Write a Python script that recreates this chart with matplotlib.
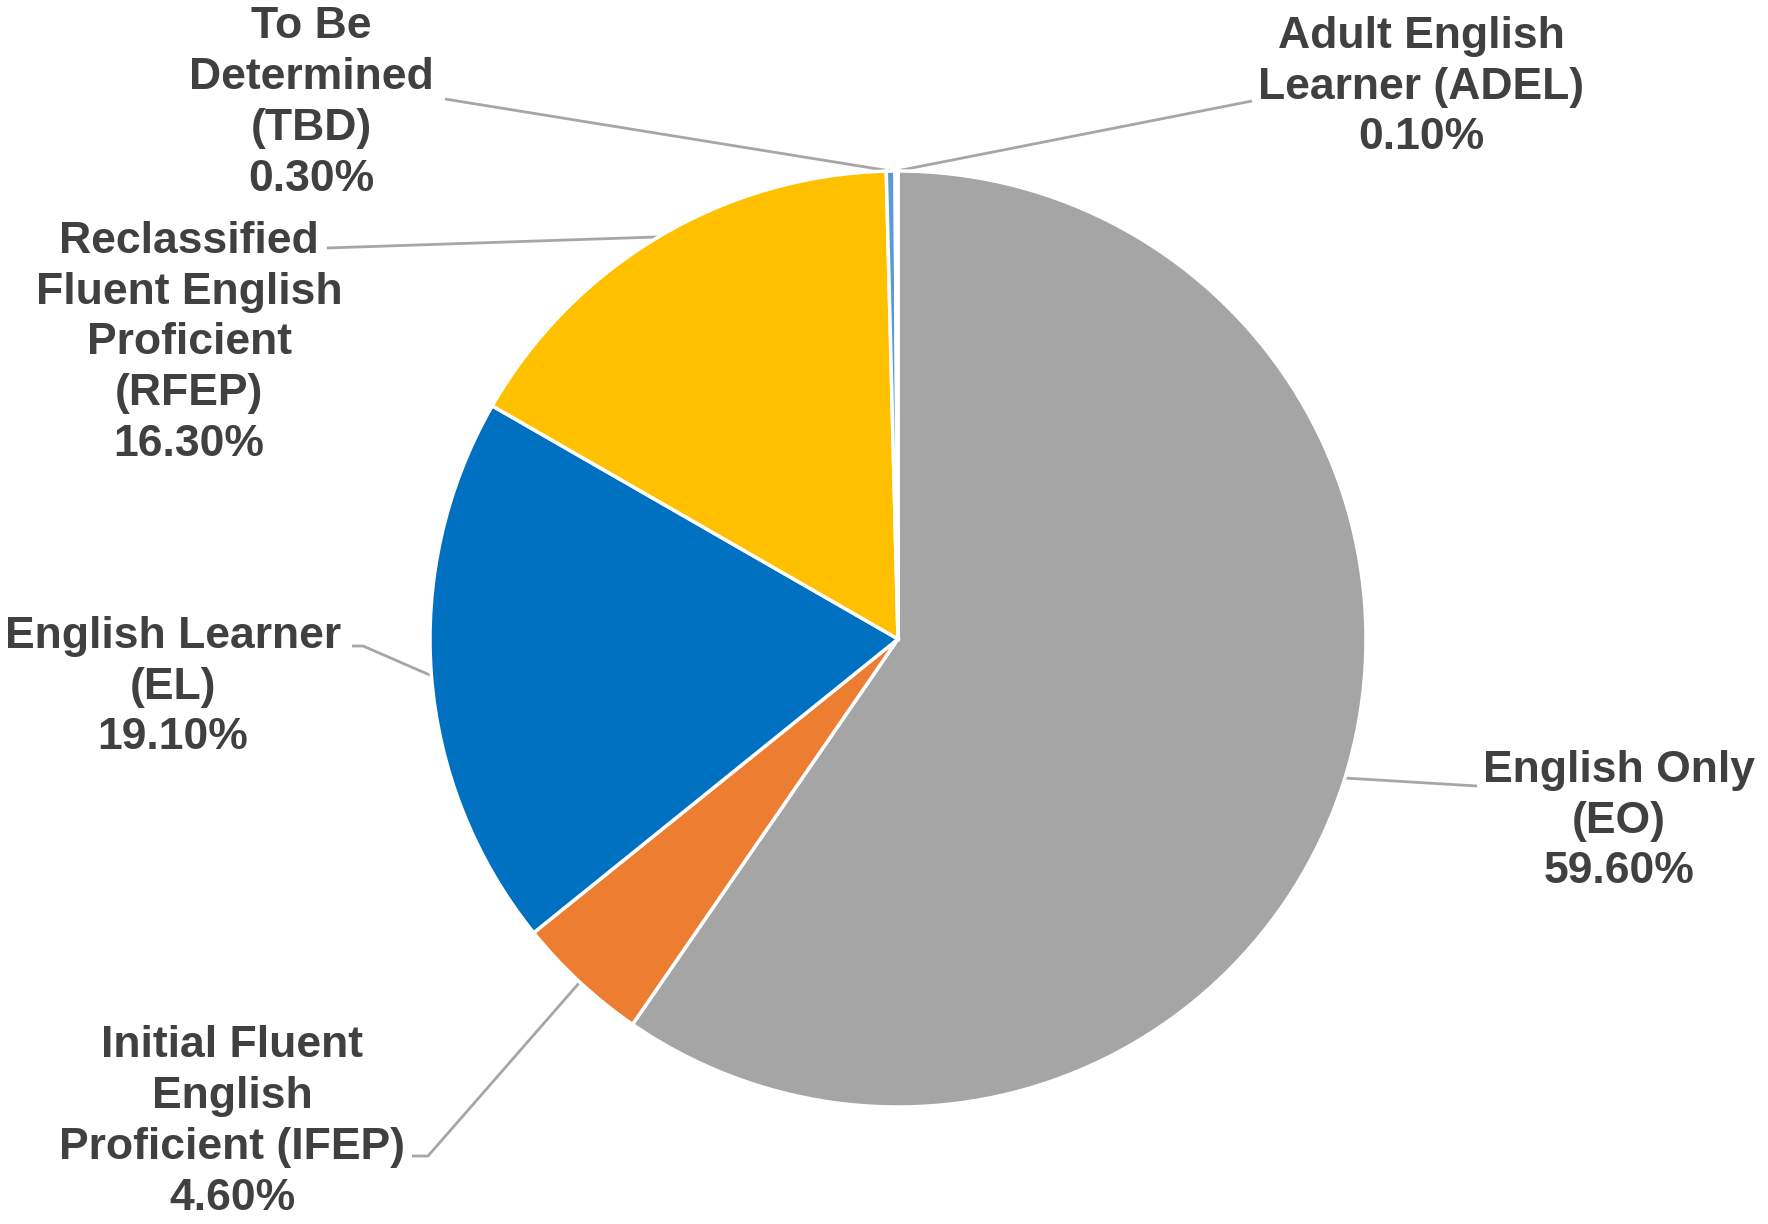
import numpy as np
import matplotlib
matplotlib.use("Agg")
import matplotlib.pyplot as plt

# Student language classification shares (percent), clockwise from 12 o'clock
categories = ["English Only\n(EO)",
              "Initial Fluent\nEnglish\nProficient (IFEP)",
              "English Learner\n(EL)",
              "Reclassified\nFluent English\nProficient\n(RFEP)",
              "To Be\nDetermined\n(TBD)",
              "Adult English\nLearner (ADEL)"]
values = [59.6, 4.6, 19.1, 16.3, 0.3, 0.1]
colors = ["#A5A5A5", "#ED7D31", "#0070C0", "#FFC000", "#5B9BD5", "#70AD47"]

W, H = 1768, 1224
fig = plt.figure(figsize=(W / 100, H / 100), dpi=100)
ax = fig.add_axes([0, 0, 1, 1])

cx, cy, R = 898, H - 639, 468
wedges, _ = ax.pie(values, colors=colors, startangle=90, counterclock=False,
                   center=(cx, cy), radius=R,
                   wedgeprops=dict(edgecolor="white", linewidth=2.5))

ax.set_xlim(0, W)
ax.set_ylim(0, H)
ax.set_aspect("equal")
ax.axis("off")

# label block centres (pixel coords from top-left) and leader-line start points
label_pos = [(1619, 821), (232, 1122), (173, 687), (189, 343), (311, 103), (1421, 87)]
leader_start = [
    [(1477, 786)],
    [(412, 1156), (428, 1156)],
    [(352, 646), (363, 646)],
    [(327, 248)],
    [(445, 99)],
    [(1252, 101)],
]

txt_color = "#404040"
line_color = "#A6A6A6"
for w, cat, val, (lx, ly), pts in zip(wedges, categories, values, label_pos, leader_start):
    ax.text(lx, H - ly, f"{cat}\n{val:.2f}%", ha="center", va="center",
            multialignment="center", fontsize=32, fontweight="bold",
            family=["Liberation Sans", "DejaVu Sans"], color=txt_color,
            linespacing=1.31)
    mid = np.deg2rad((w.theta1 + w.theta2) / 2)
    ex, ey = cx + R * np.cos(mid), cy + R * np.sin(mid)
    xs = [p[0] for p in pts] + [ex]
    ys = [H - p[1] for p in pts] + [ey]
    ax.plot(xs, ys, color=line_color, linewidth=2, solid_capstyle="butt", zorder=0.5)

fig.savefig("out.png", dpi=100, facecolor="white")
